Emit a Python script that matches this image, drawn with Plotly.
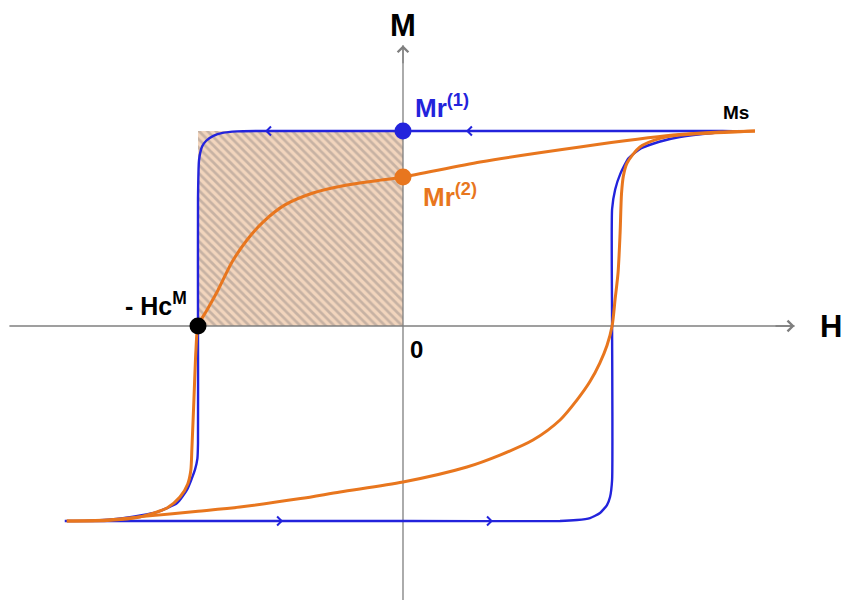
import plotly.graph_objects as go

# loop values, H in units of the coercive field, M in units of Ms
MS = 1.0
HC = -1.0
MR1 = 1.0
MR2 = 0.764

# blue (square) loop: descending branch, right to left
blue_down_h = [1.64, 1.50, 0.0, -0.70, -0.81, -0.88, -0.925, -0.96, -0.98, -0.995, -1.0, -1.0,
               -1.0, -1.003, -1.015, -1.054, -1.102, -1.20, -1.366, -1.527, -1.65]
blue_down_m = [1.0, 1.0, 1.0, 1.0, 0.998, 0.99, 0.975, 0.95, 0.92, 0.85, 0.65, 0.0,
               -0.60, -0.68, -0.738, -0.841, -0.908, -0.954, -0.985, -0.998, -1.0]
# blue loop: ascending branch, left to right
blue_up_h = [-1.65, 0.0, 0.766, 0.849, 0.912, 0.961, 0.995, 1.01, 1.02, 1.02, 1.02,
             1.035, 1.06, 1.10, 1.16, 1.25, 1.35, 1.51, 1.64]
blue_up_m = [-1.0, -1.0, -1.0, -0.995, -0.985, -0.959, -0.918, -0.877, -0.79, 0.0, 0.60,
             0.70, 0.78, 0.86, 0.91, 0.945, 0.969, 0.99, 1.0]

# orange loop: descending branch, right to left
orange_down_h = [1.717, 1.546, 1.317, 0.863, 0.376, 0.0, -0.137, -0.273, -0.439, -0.576,
                 -0.683, -0.761, -0.834, -0.902, -0.956, -1.0, -1.01, -1.02, -1.03,
                 -1.035, -1.05, -1.088, -1.151, -1.283, -1.444, -1.64]
orange_down_m = [1.0, 0.995, 0.979, 0.918, 0.841, 0.764, 0.744, 0.723, 0.682, 0.621,
                 0.533, 0.441, 0.328, 0.185, 0.082, 0.0, -0.123, -0.38, -0.636,
                 -0.74, -0.81, -0.877, -0.933, -0.979, -0.997, -1.0]
# orange loop: ascending branch, left to right
orange_up_h = [-1.64, -1.45, -1.25, -1.0, -0.795, -0.5, -0.307, 0.0, 0.312, 0.473, 0.634, 0.766,
               0.849, 0.912, 0.96, 0.995, 1.02, 1.035, 1.049, 1.059, 1.066, 1.075, 1.093,
               1.156, 1.254, 1.351, 1.512, 1.717]
orange_up_m = [-1.0, -0.995, -0.975, -0.95, -0.928, -0.885, -0.851, -0.80, -0.723, -0.662,
               -0.585, -0.482, -0.379, -0.285, -0.19, -0.10, 0.0, 0.14, 0.272, 0.477, 0.68,
               0.77, 0.836, 0.918, 0.962, 0.979, 0.99, 1.0]

# direction arrows on the blue loop (head position, direction)
blue_arrow_h = [-0.673, 0.307, -0.585, 0.439]
blue_arrow_m = [MR1, MR1, -MS, -MS]
blue_arrow_dir = [-1, -1, 1, 1]

# axis extents
axis_h = [-1.92, 1.91]
axis_m = [-1.405, 1.44]

BLUE = "#2323dc"
ORANGE = "#e8761e"
GREY = "#7f7f7f"
FONT = "Liberation Sans, Arial, sans-serif"

fig = go.Figure()

# hatched area  -Hc x Mr
fig.add_trace(go.Scatter(
    x=[HC, 0, 0, HC, HC], y=[0, 0, MR1, MR1, 0],
    mode="lines", fill="toself", line={"width": 0},
    fillcolor="#f2d5bd",
    fillpattern={"shape": "\\", "bgcolor": "#f2d5bd", "fgcolor": "#9c8f8a",
                 "size": 6, "solidity": 0.45},
    hoverinfo="skip",
))

# axes
fig.add_trace(go.Scatter(x=axis_h, y=[0, 0], mode="lines",
                         line={"color": GREY, "width": 1.3}, hoverinfo="skip"))
fig.add_trace(go.Scatter(x=[0, 0], y=axis_m, mode="lines",
                         line={"color": GREY, "width": 1.3}, hoverinfo="skip"))

# loops
fig.add_trace(go.Scatter(x=blue_down_h + blue_up_h, y=blue_down_m + blue_up_m, mode="lines",
                         line={"color": BLUE, "width": 2.4, "shape": "spline",
                               "smoothing": 0.5}))
fig.add_trace(go.Scatter(x=orange_down_h, y=orange_down_m, mode="lines",
                         line={"color": ORANGE, "width": 3, "shape": "spline",
                               "smoothing": 0.7}))
fig.add_trace(go.Scatter(x=orange_up_h, y=orange_up_m, mode="lines",
                         line={"color": ORANGE, "width": 3, "shape": "spline",
                               "smoothing": 0.8}))

# remanence / coercivity points
fig.add_trace(go.Scatter(x=[0], y=[MR1], mode="markers",
                         marker={"color": BLUE, "size": 17}))
fig.add_trace(go.Scatter(x=[0], y=[MR2], mode="markers",
                         marker={"color": ORANGE, "size": 17}))
fig.add_trace(go.Scatter(x=[HC], y=[0], mode="markers",
                         marker={"color": "black", "size": 17}))

annotations = []

# axis arrow heads
annotations.append(dict(x=axis_h[1], y=0, ax=axis_h[1] - 0.1, ay=0, xref="x", yref="y",
                        axref="x", ayref="y", text="", showarrow=True, arrowhead=4,
                        arrowsize=1.6, arrowwidth=1.3, arrowcolor=GREY, standoff=0))
annotations.append(dict(x=0, y=axis_m[1], ax=0, ay=axis_m[1] - 0.1, xref="x", yref="y",
                        axref="x", ayref="y", text="", showarrow=True, arrowhead=4,
                        arrowsize=1.6, arrowwidth=1.3, arrowcolor=GREY, standoff=0))

# loop direction arrows
for h, m, d in zip(blue_arrow_h, blue_arrow_m, blue_arrow_dir):
    annotations.append(dict(x=h, y=m, ax=h - 0.05 * d, ay=m, xref="x", yref="y",
                            axref="x", ayref="y", text="", showarrow=True, arrowhead=4,
                            arrowsize=0.8, arrowwidth=2.2, arrowcolor=BLUE, standoff=0))

# labels
annotations += [
    dict(x=0, y=axis_m[1], text="<b>M</b>", showarrow=False, yshift=20,
         font={"size": 31, "color": "black"}),
    dict(x=axis_h[1], y=0, text="<b>H</b>", showarrow=False, xshift=36,
         font={"size": 31, "color": "black"}),
    dict(x=0, y=MR1, text="<b>Mr<sup>(1)</sup></b>", showarrow=False, xanchor="left",
         xshift=10, yshift=25, font={"size": 26, "color": BLUE}),
    dict(x=0, y=MR2, text="<b>Mr<sup>(2)</sup></b>", showarrow=False, xanchor="left",
         xshift=18, yshift=-18, font={"size": 26, "color": ORANGE}),
    dict(x=orange_down_h[0], y=MS, text="<b>Ms</b>", showarrow=False, xanchor="right",
         xshift=-4, yshift=19, font={"size": 19, "color": "black"}),
    dict(x=HC, y=0, text="<b>- Hc<sup>M</sup></b>", showarrow=False, xanchor="right",
         xshift=-9, yshift=22, font={"size": 25, "color": "black"}),
    dict(x=0, y=0, text="<b>0</b>", showarrow=False, xanchor="left",
         xshift=5, yshift=-23, font={"size": 24, "color": "black"}),
]

fig.update_layout(
    width=841, height=601,
    margin={"l": 0, "r": 0, "t": 0, "b": 0},
    paper_bgcolor="white", plot_bgcolor="white",
    showlegend=False,
    font={"family": FONT},
    annotations=annotations,
    xaxis={"visible": False, "range": [-403 / 205, 438 / 205]},
    yaxis={"visible": False, "range": [-275 / 195, 326 / 195]},
)

# the page's default body margin would push the figure off the window
fig.write_html("out.html", config={"displayModeBar": False},
               post_script="document.body.style.margin = '0';")
